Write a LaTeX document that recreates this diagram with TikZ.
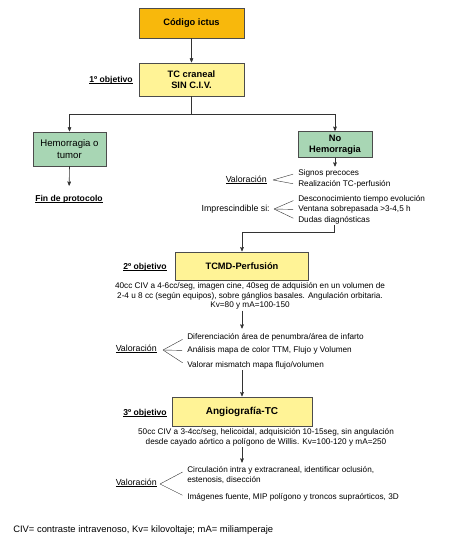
\documentclass[tikz,border=0pt]{standalone}
\usepackage{fontspec}
\setmainfont{Liberation Sans}
\usetikzlibrary{arrows}
\usetikzlibrary{positioning}
\definecolor{ictusorange}{RGB}{248,184,12}
\definecolor{tcyellow}{RGB}{255,243,150}
\definecolor{hemgreen}{RGB}{168,214,180}
\newcommand{\undl}[1]{\setbox0\hbox{#1}\rlap{\rule[-1.3pt]{\wd0}{0.45pt}}\box0}
\begin{document}
\begin{tikzpicture}[x=1pt,y=-1pt,->,>=stealth',shorten >=0.5pt,semithick,draw=black!80]
\tikzstyle{stepbox} = [rectangle, draw=black!70, thin, align=center, font=\bfseries\fontsize{9.3}{11}\selectfont]
\tikzstyle{ictus} = [stepbox, fill=ictusorange, minimum width=105pt, minimum height=30pt]
\tikzstyle{tcbox} = [stepbox, fill=tcyellow]
\tikzstyle{hemo} = [stepbox, fill=hemgreen]
\tikzstyle{info} = [font=\fontsize{8.2}{9.7}\selectfont, inner sep=1pt, anchor=west]
\tikzstyle{val} = [font=\fontsize{8.8}{10}\selectfont, inner sep=1pt, anchor=east]
\tikzstyle{goal} = [font=\bfseries\fontsize{8.6}{10}\selectfont, inner sep=1pt]
\tikzstyle{branch} = [-, thin, shorten >=4pt]

\useasboundingbox (0,0) rectangle (450,540);

% first step
\node[ictus] (CODE) at (191.5,23) {Código ictus};
\node[tcbox, minimum width=105pt, minimum height=33pt] (TC) at (191.5,79.5) {TC craneal\\SIN C.I.V.};
\node[goal, anchor=east] (OBJ1) at (134,80) {\undl{1º objetivo}};
\coordinate (SPLIT) at (191.5,114);

\node[hemo, font=\fontsize{9.6}{11.5}\selectfont, minimum width=73pt, minimum height=34pt] (HEM) at (69.5,149) {Hemorragia o\\tumor};
\node[goal] (FIN) at (69,199) {\undl{Fin de protocolo}};
\node[hemo, minimum width=74pt, minimum height=25pt] (NOHEM) at (335,144.5) {No\\Hemorragia};
\coordinate (NOHEMEND) at (335,167);

\draw (CODE) -- (TC);
\draw (TC.south) -- (SPLIT) -| (HEM.north);
\draw (SPLIT) -| (NOHEM.north);
\draw[shorten >=8pt] (HEM.south) -- (FIN.north);
\draw (NOHEM.south) -- (NOHEMEND);

% valoracion / imprescindible
\node[val] (VAL1) at (268,180) {\undl{Valoración}};
\coordinate (VTX1) at (273,180);
\node[info] (SIGNOS) at (297,173) {Signos precoces};
\node[info] (REAL) at (297,184.5) {Realización TC-perfusión};
\foreach \t in {SIGNOS,REAL}
{
   \draw[branch] (VTX1) -- (\t.west);
}

\node[val] (IMPR) at (271,209) {Imprescindible si:};
\coordinate (VTX2) at (274,209);
\node[info] (DESC) at (297,199) {Desconocimiento tiempo evolución};
\node[info] (VENT) at (297,209.5) {Ventana sobrepasada >3-4,5 h};
\node[info] (DUDAS) at (297,220) {Dudas diagnósticas};
\foreach \t in {DESC,VENT,DUDAS}
{
   \draw[branch] (VTX2) -- (\t.west);
}

% second step
\node[tcbox, minimum width=133pt, minimum height=28pt, font=\bfseries\fontsize{9.3}{11}\selectfont] (TCMD) at (242,266) {TCMD-Perfusión};
\node[goal, anchor=east] (OBJ2) at (168,267) {\undl{2º objetivo}};
\draw (DUDAS.south) -- ++(0,7) -| (TCMD.north);

\node[info, anchor=north, align=center] (PERFTXT) at (250,281) {40cc CIV a 4-6cc/seg, imagen cine, 40seg de adquisión en un volumen de\\2-4 u 8 cc (según equipos), sobre gánglios basales. Angulación orbitaria.\\Kv=80 y mA=100-150};
\coordinate (VAL2END) at (242,329);
\draw (PERFTXT.south -| TCMD.south) -- (VAL2END);

\node[val] (VAL2) at (158,349) {\undl{Valoración}};
\coordinate (VTX3) at (163,350);
\node[info] (DIF) at (186,337.5) {Diferenciación área de penumbra/área de infarto};
\node[info] (ANA) at (186,350.5) {Análisis mapa de color TTM, Flujo y Volumen};
\node[info] (MIS) at (186,365) {Valorar mismatch mapa flujo/volumen};
\foreach \t in {DIF,ANA,MIS}
{
   \draw[branch] (VTX3) -- (\t.west);
}

% third step
\node[tcbox, minimum width=140pt, minimum height=29pt, font=\bfseries\fontsize{10}{12}\selectfont] (ANGIO) at (242,411.5) {Angiografía-TC};
\node[goal, anchor=east] (OBJ3) at (168,413) {\undl{3º objetivo}};
\draw (MIS.south -| ANGIO.north) -- (ANGIO.north);

\node[info, anchor=north, align=center] (ANGIOTXT) at (266,427) {50cc CIV a 3-4cc/seg, helicoidal, adquisición 10-15seg, sin angulación\\desde cayado aórtico a polígono de Willis. Kv=100-120 y mA=250};
\coordinate (VAL3END) at (242,463);
\draw (ANGIOTXT.south -| ANGIO.south) -- (VAL3END);

\node[val] (VAL3) at (158,483) {\undl{Valoración}};
\coordinate (VTX4) at (160,484);
\node[info, anchor=north west, align=left] (CIRC) at (186,465.5) {Circulación intra y extracraneal, identificar oclusión,\\estenosis, disección};
\node[info] (IMAG) at (186,497) {Imágenes fuente, MIP polígono y troncos supraórticos, 3D};
\draw[branch] (VTX4) -- ([yshift=5pt]CIRC.west);
\draw[branch] (VTX4) -- (IMAG.west);

\node[font=\fontsize{9.4}{11}\selectfont, anchor=west, inner sep=0pt] (NOTE) at (13,530) {CIV= contraste intravenoso, Kv= kilovoltaje; mA= miliamperaje};
\end{tikzpicture}
\end{document}
